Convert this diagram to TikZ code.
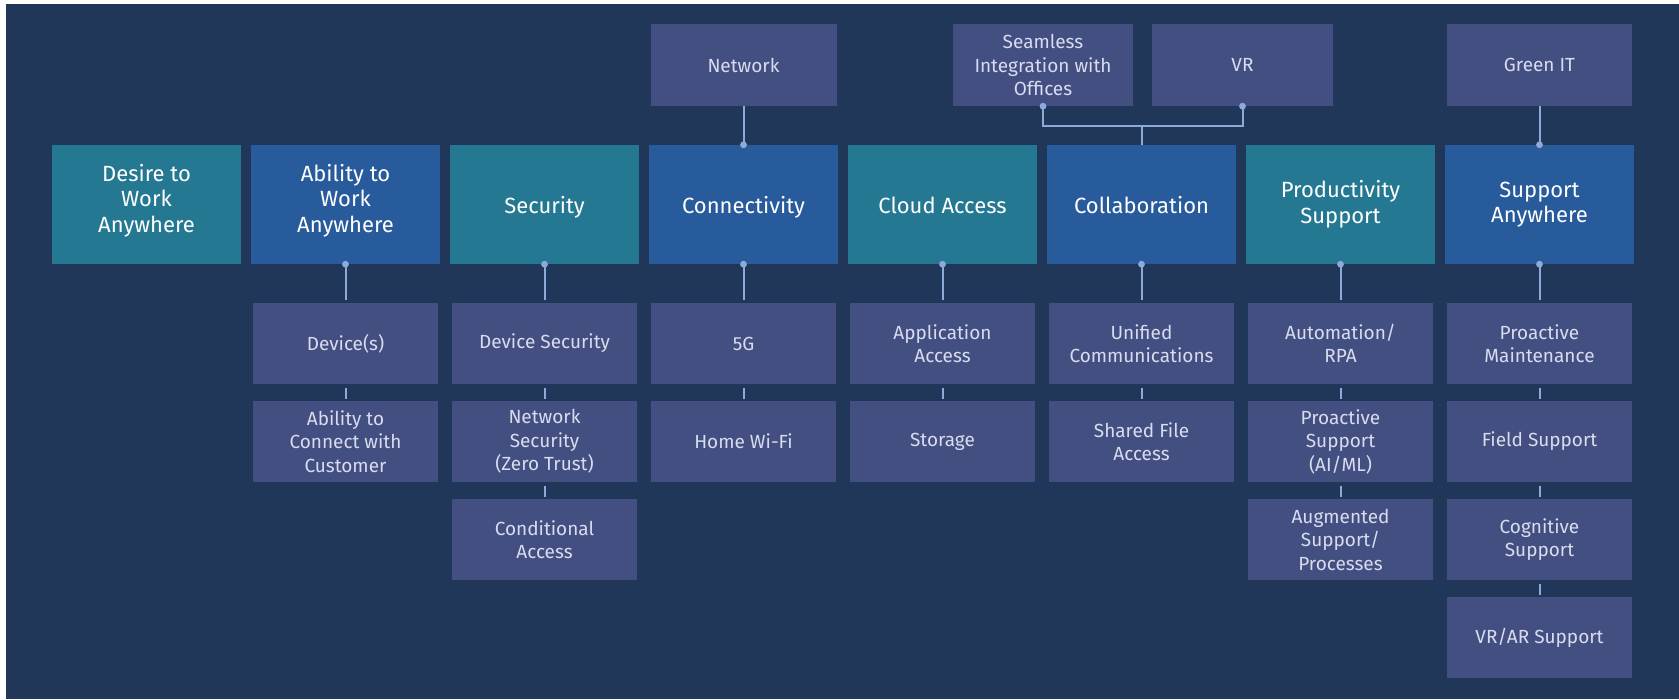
\documentclass[tikz,border=0pt]{standalone}
\usepackage{fontspec}
\setmainfont{Fira Sans}
\definecolor{bgc}{HTML}{20375A}
\definecolor{tealc}{HTML}{257891}
\definecolor{bluec}{HTML}{285B9B}
\definecolor{subc}{HTML}{434F81}
\definecolor{subtext}{HTML}{D8DCEF}
\definecolor{connc}{HTML}{8EAAD8}
\begin{document}
\begin{tikzpicture}[x=1pt,y=-1pt,
  mainbox/.style={minimum width=189pt, minimum height=119pt, inner sep=0pt, align=center, text=white, font=\fontsize{22}{25.5}\selectfont},
  tealbox/.style={mainbox, fill=tealc},
  bluebox/.style={mainbox, fill=bluec},
  mainlabel/.style={mainbox, minimum height=0pt},
  oneline/.style={mainlabel, text height=15.5pt, text depth=4.5pt, yshift=-3pt},
  threeline/.style={mainlabel, yshift=4pt},
  subbox/.style={fill=subc, minimum width=185pt, minimum height=81pt, inner sep=0pt, align=center, text=subtext, font=\fontsize{19}{23.5}\selectfont},
  topbox/.style={subbox, minimum height=82pt},
  conn/.style={draw=connc, line width=2pt},
  tick/.style={conn, shorten <=4pt, shorten >=2pt},
  dotc/.style={fill=connc}
]
\useasboundingbox (0,0) rectangle (1679,699);
\fill[white] (0,0) rectangle (1679,699);
\fill[bgc] (6,4) rectangle (1679,699);

% main row: box shapes (for anchors) and texts
\node[tealbox] (m0) at (146.5,204.5) {};
\node[bluebox] (m1) at (345.5,204.5) {};
\node[tealbox] (m2) at (544.5,204.5) {};
\node[bluebox] (m3) at (743.5,204.5) {};
\node[tealbox] (m4) at (942.5,204.5) {};
\node[bluebox] (m5) at (1141.5,204.5) {};
\node[tealbox] (m6) at (1340.5,204.5) {};
\node[bluebox] (m7) at (1539.5,204.5) {};
\node[threeline] (l0) at (m0) {Desire to\\Work\\Anywhere};
\node[threeline] (l1) at (m1) {Ability to\\Work\\Anywhere};
\node[oneline] (l2) at (m2) {Security};
\node[oneline] (l3) at (m3) {Connectivity};
\node[oneline] (l4) at (m4) {Cloud Access};
\node[oneline] (l5) at (m5) {Collaboration};
\node[mainlabel] (l6) at (m6) {Productivity\\Support};
\node[mainlabel] (l7) at (m7) {Support\\Anywhere};

% top boxes
\node[topbox, minimum width=186pt] (t3) at (743.5,65) {Network};
\node[topbox, minimum width=180pt] (t5a) at (1043,65) {Seamless\\Integration with\\Offices};
\node[topbox, minimum width=181pt] (t5b) at (1242.5,65) {VR};
\node[topbox] (t7) at (1539.5,65) {Green IT};

% sub boxes
\node[subbox] (s10) at (345.5,343.5) {Device(s)};
\node[subbox] (s11) at (345.5,441.5) {Ability to\\Connect with\\Customer};
\node[subbox] (s20) at (544.5,343.5) {Device Security};
\node[subbox] (s21) at (544.5,441.5) {Network\\Security\\(Zero Trust)};
\node[subbox] (s22) at (544.5,539.5) {Conditional\\Access};
\node[subbox] (s30) at (743.5,343.5) {5G};
\node[subbox] (s31) at (743.5,441.5) {Home Wi-Fi};
\node[subbox] (s40) at (942.5,343.5) {Application\\Access};
\node[subbox] (s41) at (942.5,441.5) {Storage};
\node[subbox] (s50) at (1141.5,343.5) {Unified\\Communications};
\node[subbox] (s51) at (1141.5,441.5) {Shared File\\Access};
\node[subbox] (s60) at (1340.5,343.5) {Automation/\\RPA};
\node[subbox] (s61) at (1340.5,441.5) {Proactive\\Support\\(AI/ML)};
\node[subbox] (s62) at (1340.5,539.5) {Augmented\\Support/\\Processes};
\node[subbox] (s70) at (1539.5,343.5) {Proactive\\Maintenance};
\node[subbox] (s71) at (1539.5,441.5) {Field Support};
\node[subbox] (s72) at (1539.5,539.5) {Cognitive\\Support};
\node[subbox] (s73) at (1539.5,637.5) {VR/AR Support};

% main -> first sub
\foreach \c in {1,...,7}{
  \draw[conn, shorten >=3pt] (m\c.south) -- (s\c0.north);
  \fill[dotc] (m\c.south) circle (3.4pt);
}
% ticks between subs
\draw[tick] (s10.south) -- (s11.north);
\draw[tick] (s20.south) -- (s21.north);
\draw[tick] (s21.south) -- (s22.north);
\draw[tick] (s30.south) -- (s31.north);
\draw[tick] (s40.south) -- (s41.north);
\draw[tick] (s50.south) -- (s51.north);
\draw[tick] (s60.south) -- (s61.north);
\draw[tick] (s61.south) -- (s62.north);
\draw[tick] (s70.south) -- (s71.north);
\draw[tick] (s71.south) -- (s72.north);
\draw[tick] (s72.south) -- (s73.north);

% top connectors
\draw[conn] (t3.south) -- (m3.north);
\fill[dotc] (m3.north) circle (3.4pt);
\draw[conn] (t7.south) -- (m7.north);
\fill[dotc] (m7.north) circle (3.4pt);
\coordinate (j5) at (1141.5,126);
\draw[conn] (t5a.south) |- (j5) -| (t5b.south);
\draw[conn] (j5) -- (m5.north);
\fill[dotc] (t5a.south) circle (3.4pt);
\fill[dotc] (t5b.south) circle (3.4pt);
\end{tikzpicture}
\end{document}
